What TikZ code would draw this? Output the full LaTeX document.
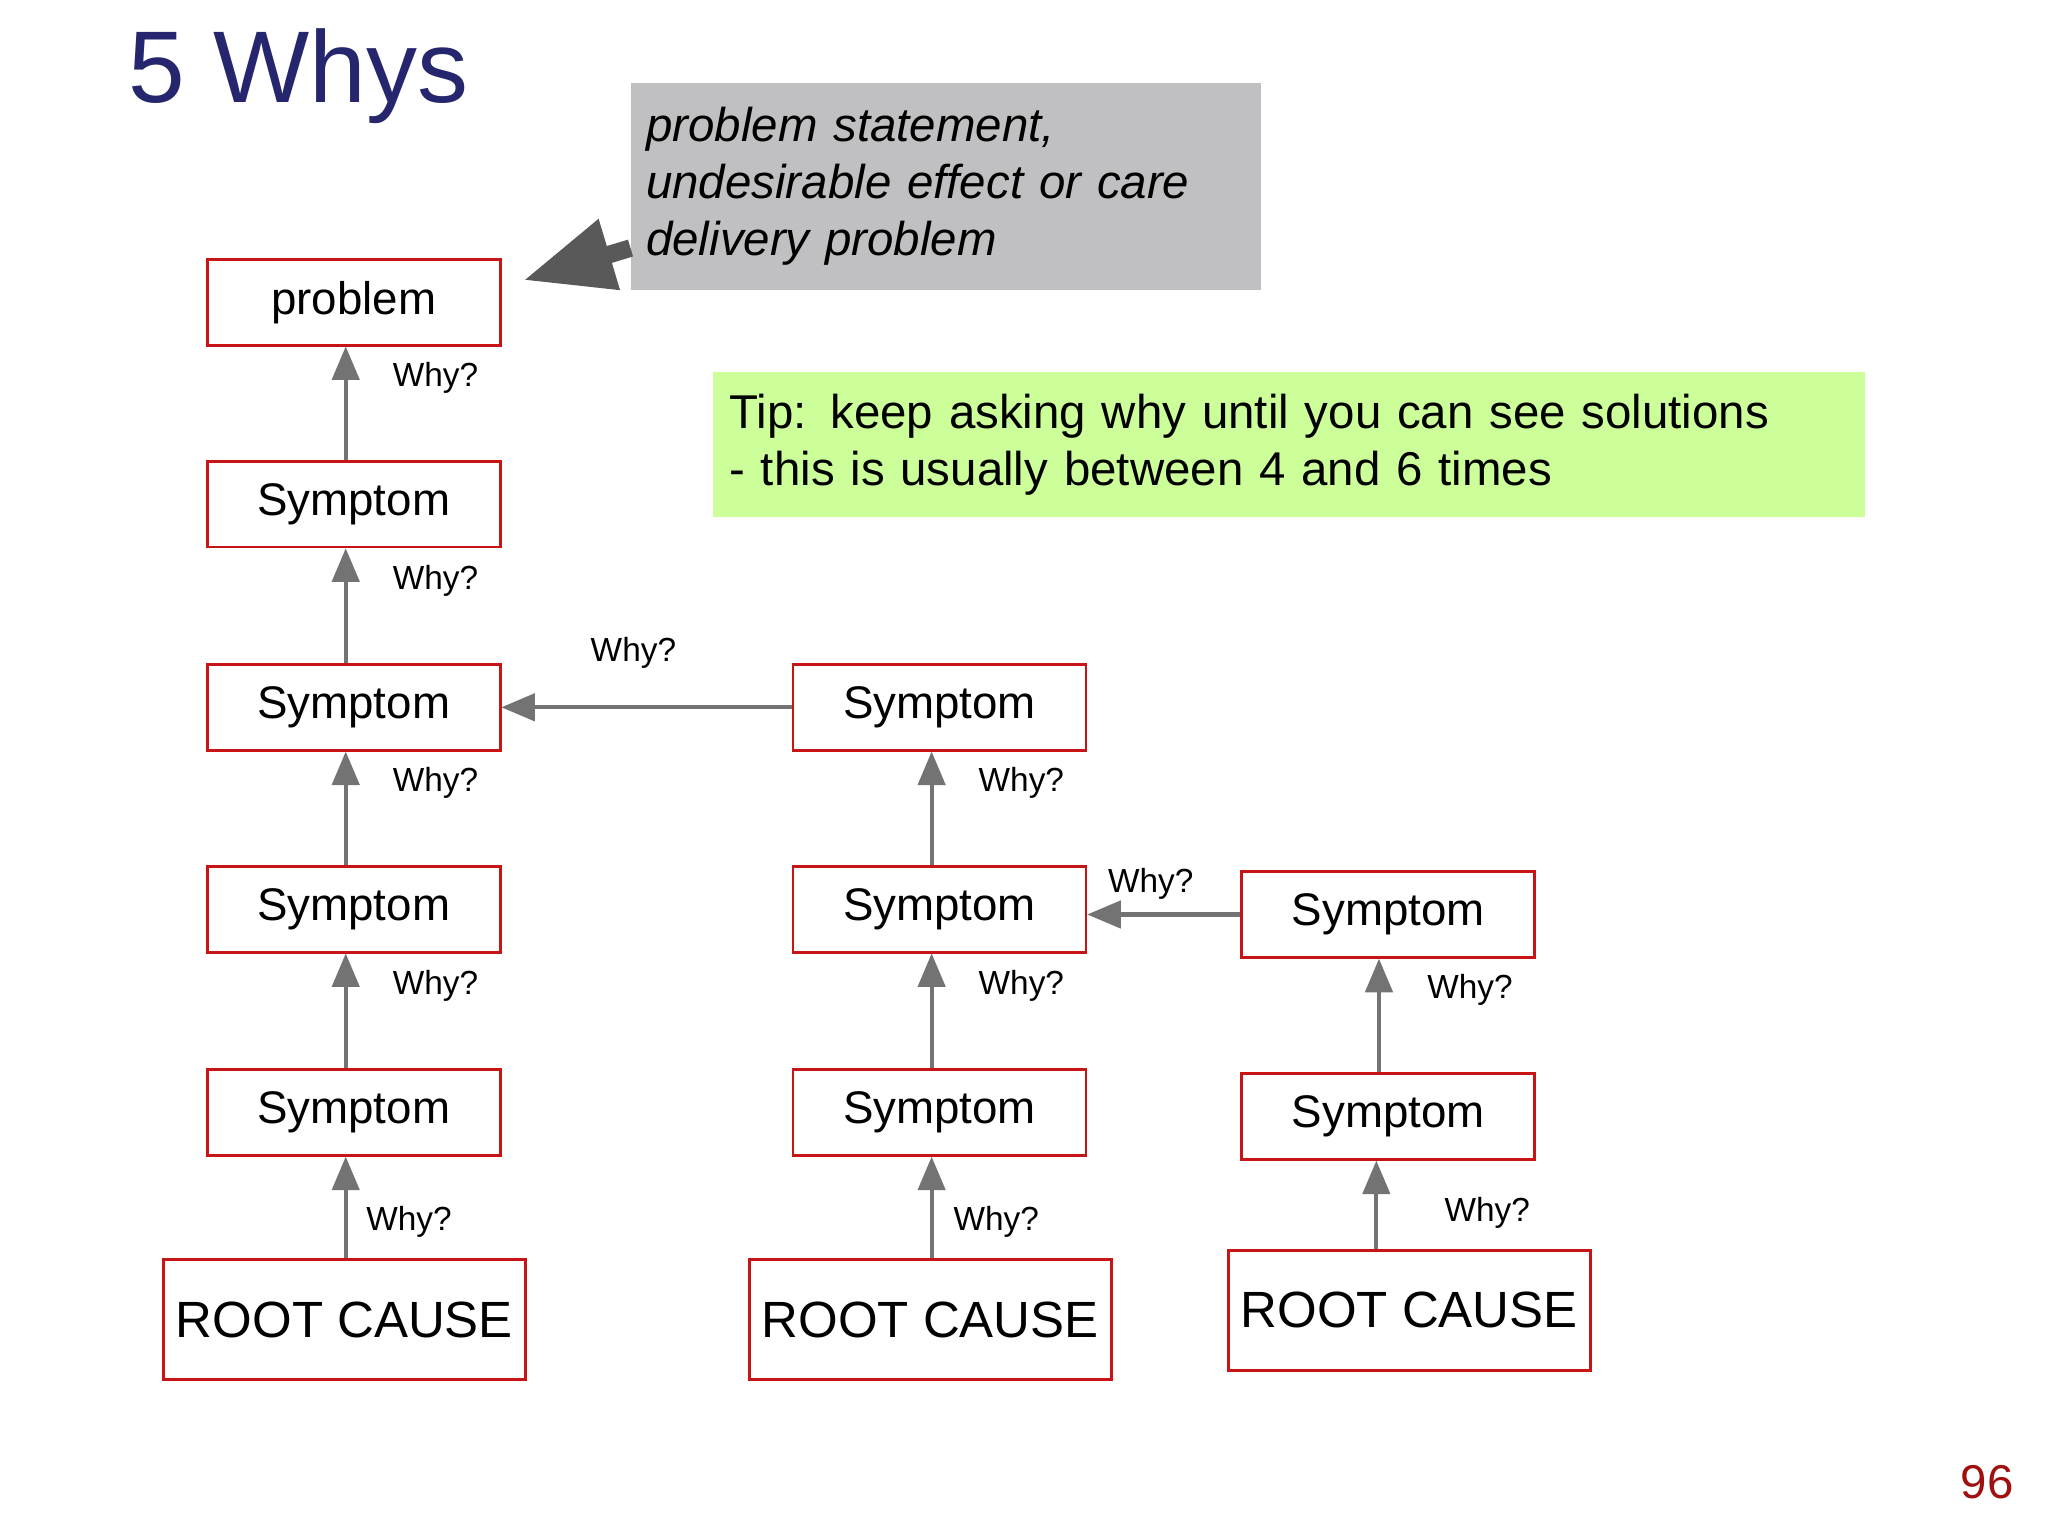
\documentclass[tikz,border=0pt]{standalone}
\usepackage{fontspec}
\setmainfont{Liberation Sans}
\usetikzlibrary{arrows}
\usetikzlibrary{positioning}
\definecolor{titleblue}{RGB}{38,38,110}
\definecolor{boxred}{RGB}{200,20,20}
\definecolor{tipgreen}{RGB}{204,255,153}
\definecolor{notegray}{RGB}{192,192,194}
\tikzset{sym/.style={rectangle,draw=boxred,thick,fill=white,minimum width=2.93cm,
minimum height=0.86cm,inner sep=0pt,font=\fontsize{13}{13}\selectfont},
root/.style={sym,minimum width=3.62cm,minimum height=1.2cm,font=\fontsize{14.5}{14.5}\selectfont},
why/.style={font=\fontsize{9.5}{9.5}\selectfont},
up/.style={->,draw=gray!90!black,line width=1.2pt},
>={triangle 45}}

\begin{document}
\begin{tikzpicture}[x=0.0132cm,y=-0.0132cm]
  \useasboundingbox (0,0) rectangle (1552,1164);

  \node (title) [anchor=west,text=titleblue,font=\fontsize{29}{29}\selectfont] at (88,58) {5 Whys};

  % first chain
  \node (prob) [sym] at (268,229) {problem};
  \node (s11) [sym] at (268,382) {Symptom};
  \node (s12) [sym] at (268,536) {Symptom};
  \node (s13) [sym] at (268,689) {Symptom};
  \node (s14) [sym] at (268,843) {Symptom};
  \node (rc1) [root] at (261,1000) {ROOT CAUSE};

  % second chain
  \node (s21) [sym] at (712,536) {Symptom};
  \node (s22) [sym] at (712,689) {Symptom};
  \node (s23) [sym] at (712,843) {Symptom};
  \node (rc2) [root] at (705,1000) {ROOT CAUSE};

  % third chain
  \node (s31) [sym] at (1052,693) {Symptom};
  \node (s32) [sym] at (1052,846) {Symptom};
  \node (rc3) [root] at (1068,993) {ROOT CAUSE};

  \draw [up] (s11.north -| 262,0) -- (prob.south -| 262,0);
  \draw [up] (s12.north -| 262,0) -- (s11.south -| 262,0);
  \draw [up] (s13.north -| 262,0) -- (s12.south -| 262,0);
  \draw [up] (s14.north -| 262,0) -- (s13.south -| 262,0);
  \draw [up] (rc1.north -| 262,0) -- (s14.south -| 262,0);
  \draw [up] (s21.west) -- (s12.east);
  \draw [up] (s22.north -| 706,0) -- (s21.south -| 706,0);
  \draw [up] (s23.north -| 706,0) -- (s22.south -| 706,0);
  \draw [up] (rc2.north -| 706,0) -- (s23.south -| 706,0);
  \draw [up] (s31.west) -- (s22.east |- s31.west);
  \draw [up] (s32.north -| 1045,0) -- (s31.south -| 1045,0);
  \draw [up] (rc3.north -| 1043,0) -- (s32.south -| 1043,0);

  \node (w1) [why] at (330,286) {Why?};
  \node (w2) [why] at (330,440) {Why?};
  \node (w3) [why] at (330,593) {Why?};
  \node (w4) [why] at (330,747) {Why?};
  \node (w5) [why] at (310,926) {Why?};
  \node (w6) [why] at (480,495) {Why?};
  \node (w7) [why] at (774,593) {Why?};
  \node (w8) [why] at (774,747) {Why?};
  \node (w9) [why] at (755,926) {Why?};
  \node (w10) [why] at (872,670) {Why?};
  \node (w11) [why] at (1114,750) {Why?};
  \node (w12) [why] at (1127,919) {Why?};

  % notes
  \node (note) [rectangle,fill=notegray,minimum width=6.3cm,minimum height=2.07cm,
    align=left,text width=6.0cm,font=\fontsize{13.5}{16.3}\selectfont\itshape] at (717,141)
    {problem statement,\\undesirable effect or care\\delivery problem};
  \draw [->,draw=black!65,line width=5pt] (note.west |- 0,188) -- (398,212);
  \node (tip) [rectangle,fill=tipgreen,minimum width=11.52cm,minimum height=1.45cm,
    align=left,text width=11.2cm,font=\fontsize{13.5}{16.3}\selectfont] at (977,337)
    {Tip: keep asking why until you can see solutions\\- this is usually between 4 and 6 times};

  \node (page) [text=boxred!80!black,font=\fontsize{13.5}{13.5}\selectfont] at (1506,1123) {96};
\end{tikzpicture}
\end{document}
